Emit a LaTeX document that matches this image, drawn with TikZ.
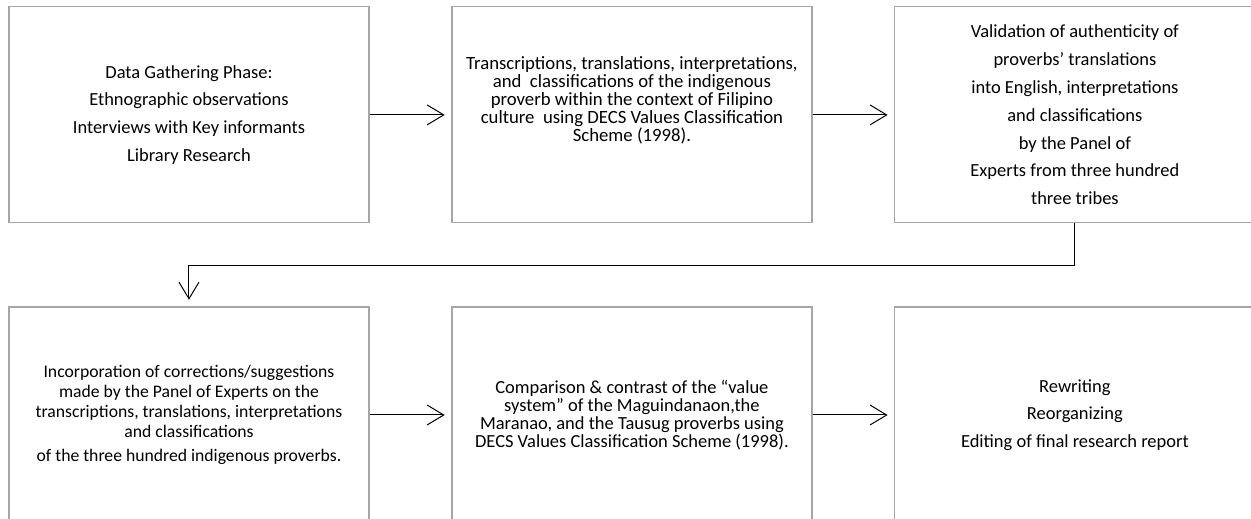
\documentclass[tikz,border=0pt]{standalone}
\usepackage{fontspec}
\setmainfont{Carlito}
\usepackage{tikz}
\usetikzlibrary{arrows.meta}
\definecolor{boxgray}{RGB}{166,166,166}

\tikzset{
    stage/.style={draw=boxgray, line width=0.9pt, minimum width=9.525cm,
        minimum height=5.715cm, align=center, font=\fontsize{13.9}{13.4}\selectfont},
    wide/.style={font=\fontsize{13.9}{20.9}\selectfont},
    conn/.style={black, line width=0.75pt, shorten >=5pt,
        -{Straight Barb[length=12.5pt, width=15pt]}}
}

\begin{document}
\begin{tikzpicture}

    \useasboundingbox (0,0) rectangle (33.10,-13.73);
    \clip (0,0) rectangle (33.10,-13.73);

    %% Top row
    \node[stage, wide] (box1) at (5.00,-3.04)
        {Data Gathering Phase:\\Ethnographic observations\\Interviews with Key informants\\Library Research};
    \node[stage, font=\fontsize{14.1}{13.4}\selectfont] (box2) at (16.72,-3.04)
        {Transcriptions, translations, interpretations,\\and \ classifications of the indigenous\\proverb within the context of Filipino\\culture \ using DECS Values Classification\\Scheme (1998).\\[10.6pt]\mbox{}};
    \node[stage, wide] (box3) at (28.44,-3.04)
        {Validation of authenticity of\\proverbs' translations\\into English, interpretations\\and classifications\\by the Panel of\\Experts from three hundred\\three tribes};

    %% Bottom row
    \node[stage, font=\fontsize{13.3}{15}\selectfont] (box4) at (5.00,-10.98)
        {Incorporation of corrections/suggestions\\made by the Panel of Experts on the\\transcriptions, translations, interpretations\\and classifications\\[3.8pt]of the three hundred indigenous proverbs.};
    \node[stage] (box5) at (16.72,-10.98)
        {Comparison \& contrast of the ``value\\system'' of the Maguindanaon,the\\Maranao, and the Tausug proverbs using\\DECS Values Classification Scheme (1998).};
    \node[stage, wide] (box6) at (28.44,-10.98)
        {Rewriting\\Reorganizing\\Editing of final research report};

    %% Connectors
    \draw[conn] (box1) -- (box2);
    \draw[conn] (box2) -- (box3);
    \draw[conn] (box3.south) -- ++(0,-1.11) -| (box4.north);
    \draw[conn] (box4) -- (box5);
    \draw[conn] (box5) -- (box6);

\end{tikzpicture}
\end{document}
